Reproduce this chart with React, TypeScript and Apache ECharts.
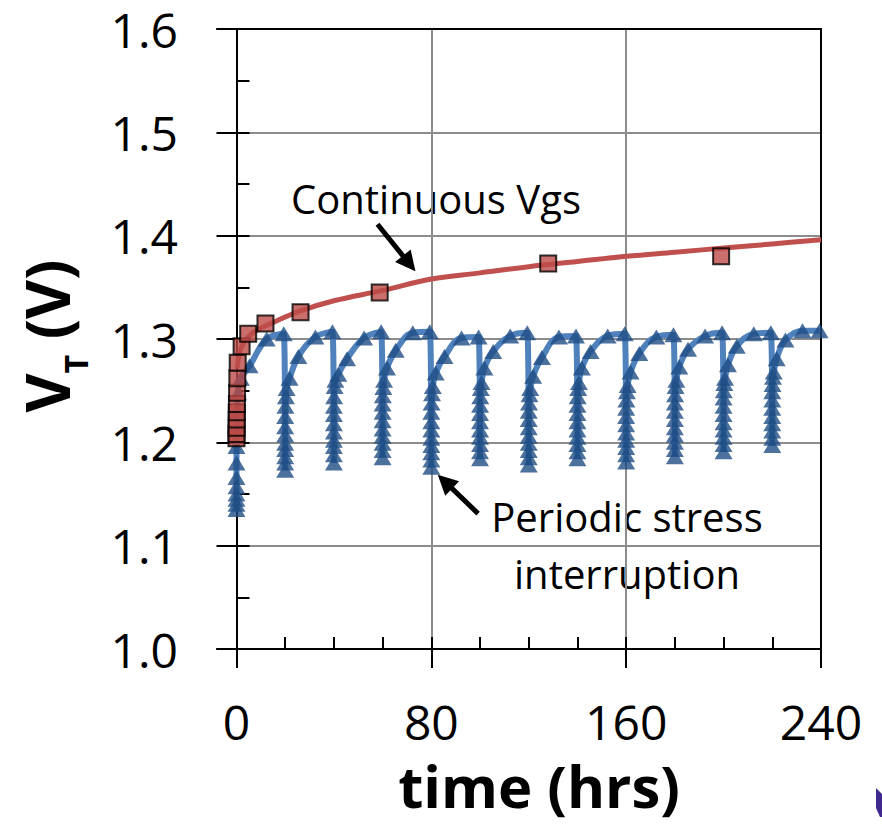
import React, { useEffect, useRef } from "react";
import * as echarts from "echarts";

const FONT = "Open Sans";

// axis ticks
const xTicksMajor = [0, 80, 160, 240];
const xTicksMinor = [0, 20, 40, 60, 80, 100, 120, 140, 160, 180, 200, 220, 240];
const xGridValues = [80, 160];
const yTicksMajor = [1.0, 1.1, 1.2, 1.3, 1.4, 1.5, 1.6];
const yTicksMinor = [1.0, 1.05, 1.1, 1.15, 1.2, 1.25, 1.3, 1.35, 1.4, 1.45, 1.5, 1.55, 1.6];
const yGridValues = [1.1, 1.2, 1.3, 1.4, 1.5];

// Continuous Vgs: measured points
const contTimes = [0, 0.02, 0.05, 0.08, 0.12, 0.18, 0.25, 0.35, 0.5, 2.1, 4.8, 11.9, 26.3, 58.8, 128, 199];
const contVt = [1.204, 1.208, 1.214, 1.222, 1.229, 1.237, 1.248, 1.262, 1.277, 1.293, 1.305, 1.315, 1.326, 1.345, 1.373, 1.38];

// Continuous Vgs: fitted curve
const fitTimes = [0.3, 1, 2, 4, 8, 15, 26, 40, 60, 80, 100, 120, 140, 160, 180, 200, 220, 240];
const fitVt = [1.272, 1.284, 1.292, 1.3, 1.308, 1.316, 1.327, 1.337, 1.347, 1.358, 1.364, 1.37, 1.375, 1.38, 1.384, 1.388, 1.392, 1.396];

// Periodic stress interruption: each stress cycle starts at cycleStarts[k]
const cycleStarts = [0, 20, 40, 60, 80, 100, 120, 140, 160, 180, 200, 220];
const pointOffsets = [0, 0, 0, 0, 0, 0, 0, 0, 0.1, 0.3, 0.6, 1.8, 5.4, 12.4, 19.4];
const cycleVt = [
  [1.135, 1.14, 1.145, 1.15, 1.157, 1.166, 1.18, 1.196, 1.212, 1.23, 1.248, 1.262, 1.274, 1.3, 1.305],
  [1.173, 1.18, 1.186, 1.193, 1.199, 1.207, 1.215, 1.225, 1.235, 1.244, 1.252, 1.262, 1.283, 1.302, 1.307],
  [1.18, 1.188, 1.196, 1.202, 1.21, 1.218, 1.227, 1.235, 1.244, 1.254, 1.26, 1.266, 1.281, 1.301, 1.307],
  [1.185, 1.192, 1.199, 1.206, 1.213, 1.221, 1.229, 1.237, 1.245, 1.253, 1.26, 1.272, 1.289, 1.306, 1.307],
  [1.176, 1.183, 1.19, 1.197, 1.204, 1.212, 1.22, 1.229, 1.238, 1.247, 1.254, 1.267, 1.283, 1.301, 1.302],
  [1.184, 1.191, 1.198, 1.205, 1.212, 1.22, 1.228, 1.236, 1.244, 1.252, 1.258, 1.272, 1.288, 1.303, 1.306],
  [1.178, 1.185, 1.192, 1.199, 1.206, 1.214, 1.222, 1.23, 1.238, 1.246, 1.252, 1.264, 1.282, 1.302, 1.303],
  [1.184, 1.191, 1.198, 1.205, 1.212, 1.22, 1.228, 1.236, 1.244, 1.252, 1.258, 1.272, 1.288, 1.303, 1.305],
  [1.181, 1.188, 1.195, 1.202, 1.209, 1.217, 1.225, 1.233, 1.241, 1.249, 1.255, 1.268, 1.286, 1.302, 1.304],
  [1.186, 1.193, 1.2, 1.207, 1.214, 1.222, 1.23, 1.238, 1.246, 1.254, 1.26, 1.273, 1.29, 1.303, 1.306],
  [1.191, 1.198, 1.205, 1.212, 1.219, 1.227, 1.235, 1.243, 1.25, 1.257, 1.262, 1.275, 1.293, 1.305, 1.306],
  [1.197, 1.204, 1.211, 1.218, 1.225, 1.233, 1.241, 1.249, 1.256, 1.263, 1.268, 1.281, 1.299, 1.308, 1.308],
];

// annotation arrows (data coordinates: tail -> head)
const arrowContinuous = [[57.9, 1.411], [70.9, 1.373]];
const arrowPeriodic = [[99.2, 1.131], [85.6, 1.162]];

export default function App() {
  const ref = useRef<HTMLDivElement>(null);

  useEffect(() => {
    if (!ref.current) return;
    const chart = echarts.init(ref.current, null, { renderer: "svg" });

    const contData = contTimes.map((t, i) => [t, contVt[i]]);
    const fitData = fitTimes.map((t, i) => [t, fitVt[i]]);
    const periodicData: number[][] = [];
    cycleStarts.forEach((s, k) => {
      pointOffsets.forEach((o, j) => periodicData.push([s + o, cycleVt[k][j]]));
    });

    const black = { color: "#000", width: 2 };
    const xBase = { type: "value", min: -8, max: 240 };
    const yBase = { type: "value", min: 1.0, max: 1.6 };

    const option: any = {
      animation: false,
      backgroundColor: "#fff",
      grid: { left: 217, right: 61, top: 29, bottom: 175, containLabel: false, outerBoundsMode: "none" },
      xAxis: [
        {
          ...xBase,
          position: "bottom",
          axisLine: { show: true, onZero: false, lineStyle: black },
          axisTick: { show: true, inside: false, length: 19, customValues: xTicksMajor, lineStyle: black },
          axisLabel: {
            show: true,
            customValues: xTicksMajor,
            margin: 48,
            fontSize: 48,
            lineHeight: 48,
            fontFamily: FONT,
            color: "#000",
            formatter: (v: number) => String(v),
          },
          splitLine: { show: false },
        },
        {
          ...xBase,
          position: "bottom",
          axisLine: { show: false, onZero: false },
          axisTick: { show: true, inside: true, length: 12, customValues: xTicksMinor, lineStyle: black },
          axisLabel: { show: false },
          splitLine: { show: false },
        },
        {
          ...xBase,
          position: "top",
          axisLine: { show: true, onZero: false, lineStyle: black },
          axisTick: { show: false },
          axisLabel: { show: false },
          splitLine: { show: false },
        },
        {
          ...xBase,
          position: "bottom",
          axisLine: { show: false, onZero: false },
          axisTick: { show: false, customValues: xGridValues },
          axisLabel: { show: false },
          splitLine: { show: true, lineStyle: { color: "#8c8c8c", width: 2 } },
        },
      ],
      yAxis: [
        {
          ...yBase,
          position: "left",
          axisLine: { show: true, onZero: true, onZeroAxisIndex: 0, lineStyle: black },
          axisTick: { show: true, inside: false, length: 20, customValues: yTicksMajor, lineStyle: black },
          axisLabel: {
            show: true,
            customValues: yTicksMajor,
            margin: 39,
            fontSize: 48,
            lineHeight: 48,
            fontFamily: FONT,
            color: "#000",
            formatter: (v: number) => v.toFixed(1),
          },
          splitLine: { show: false },
        },
        {
          ...yBase,
          position: "left",
          axisLine: { show: false, onZero: true, onZeroAxisIndex: 0 },
          axisTick: { show: true, inside: true, length: 13, customValues: yTicksMinor, lineStyle: black },
          axisLabel: { show: false },
          splitLine: { show: false },
        },
        {
          ...yBase,
          position: "right",
          axisLine: { show: true, onZero: false, lineStyle: black },
          axisTick: { show: false },
          axisLabel: { show: false },
          splitLine: { show: false },
        },
        {
          ...yBase,
          position: "left",
          axisLine: { show: false, onZero: false },
          axisTick: { show: false, customValues: yGridValues },
          axisLabel: { show: false },
          splitLine: { show: true, lineStyle: { color: "#8c8c8c", width: 2 } },
        },
      ],
      series: [
        {
          name: "Periodic stress interruption (line)",
          type: "line",
          data: periodicData,
          smooth: 0.4,
          showSymbol: false,
          symbol: "none",
          lineStyle: { color: "#4f81bd", width: 6 },
          z: 2,
          silent: true,
        },
        {
          name: "Periodic stress interruption",
          type: "scatter",
          data: periodicData,
          symbol: "triangle",
          symbolSize: [18, 15],
          itemStyle: { color: "#1f4e85" },
          z: 3,
          silent: true,
        },
        {
          name: "Continuous Vgs fit",
          type: "line",
          data: fitData,
          smooth: 0.4,
          showSymbol: false,
          symbol: "none",
          lineStyle: { color: "#c0504d", width: 5 },
          z: 4,
          silent: true,
        },
        {
          name: "Continuous Vgs",
          type: "scatter",
          data: contData,
          symbol: "rect",
          symbolSize: 16,
          itemStyle: { color: "#bd4b47", borderColor: "#000", borderWidth: 2 },
          z: 5,
          silent: true,
          markLine: {
            silent: true,
            symbol: ["none", "triangle"],
            symbolSize: [20, 20],
            label: { show: false },
            lineStyle: { color: "#000", width: 5, type: "solid" },
            emphasis: { disabled: true },
            data: [
              [{ coord: arrowContinuous[0] }, { coord: arrowContinuous[1] }],
              [{ coord: arrowPeriodic[0] }, { coord: arrowPeriodic[1] }],
            ],
          },
        },
      ],
      graphic: [
        {
          type: "text",
          x: 436,
          y: 198,
          style: { text: "Continuous Vgs", fontSize: 40, fontFamily: FONT, fill: "#000", align: "center", verticalAlign: "middle" },
        },
        {
          type: "text",
          x: 627,
          y: 516,
          style: { text: "Periodic stress", fontSize: 40, fontFamily: FONT, fill: "#000", align: "center", verticalAlign: "middle" },
        },
        {
          type: "text",
          x: 627,
          y: 573,
          style: { text: "interruption", fontSize: 40, fontFamily: FONT, fill: "#000", align: "center", verticalAlign: "middle" },
        },
        {
          type: "text",
          x: 539,
          y: 785,
          style: { text: "time (hrs)", fontSize: 58, lineHeight: 58, fontWeight: "bold", fontFamily: FONT, fill: "#000", align: "center", verticalAlign: "middle" },
        },
        {
          type: "text",
          x: 50,
          y: 336,
          rotation: Math.PI / 2,
          style: {
            text: "{v|V}{s|T}{v| (V)}",
            align: "center",
            verticalAlign: "middle",
            rich: {
              v: { fontSize: 60, fontWeight: "bold", fontFamily: FONT, fill: "#000", lineHeight: 66, verticalAlign: "top" },
              s: { fontSize: 32, fontWeight: "bold", fontFamily: FONT, fill: "#000", lineHeight: 34, padding: [42, 0, 0, 0], verticalAlign: "top" },
            },
          },
        },
        {
          type: "polygon",
          shape: { points: [[876, 788], [882, 794], [882, 817], [880, 817], [876, 808]] },
          style: { fill: "#40288f" },
        },
      ],
    };

    chart.setOption(option);
    return () => chart.dispose();
  }, []);

  return <div ref={ref} style={{ position: "absolute", left: 0, top: 0, width: 882, height: 824 }} />;
}
